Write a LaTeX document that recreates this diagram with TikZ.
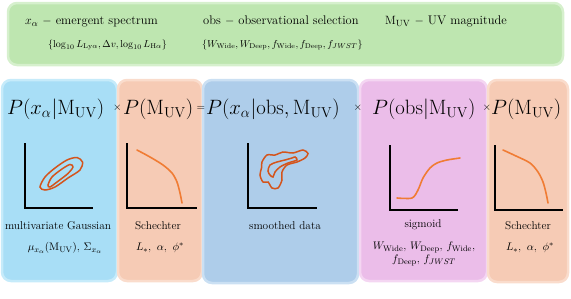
\documentclass[tikz,border=0pt]{standalone}
\usepackage{amsmath}
\usepackage{amssymb}
\usepackage{xcolor}
\usepackage{tikz}
\usetikzlibrary{positioning}

\definecolor{legfill}{HTML}{BEE6B0}
\definecolor{legrim}{HTML}{D6F0CD}
\definecolor{cyanfill}{HTML}{A8DEF6}
\definecolor{cyanrim}{HTML}{C6EBFA}
\definecolor{salfill}{HTML}{F6CBB5}
\definecolor{salrim}{HTML}{FADCCC}
\definecolor{bluefill}{HTML}{AECDEA}
\definecolor{bluerim}{HTML}{CBE0F3}
\definecolor{pinkfill}{HTML}{EBBDE9}
\definecolor{pinkrim}{HTML}{F4D6F2}
\definecolor{curveor}{HTML}{F07C34}
\definecolor{contred}{HTML}{D4541C}

\tikzset{
  panel/.style={rounded corners=9pt, line width=2.5pt},
  axes/.style={line width=2.6pt, black},
  curve/.style={line width=1.6pt, curveor, line cap=round},
  contour/.style={line width=1.5pt, contred},
  formula/.style={inner sep=0pt, anchor=base west, font=\fontsize{21.5}{26}\selectfont},
  wideformula/.style={formula, font=\fontsize{22.5}{27}\selectfont},
  op/.style={inner sep=0pt, font=\fontsize{10.5}{13}\selectfont},
  legend/.style={inner sep=0pt, anchor=base west, font=\fontsize{12.5}{15}\selectfont},
  legsub/.style={inner sep=0pt, anchor=base west, font=\fontsize{10.4}{12}\selectfont},
  plabel/.style={inner sep=0pt, font=\fontsize{11.3}{13}\selectfont},
  pparam/.style={inner sep=0pt, font=\fontsize{11.4}{13}\selectfont, align=center}
}

\begin{document}
\begin{tikzpicture}[x=1pt, y=-1pt]
  \useasboundingbox (0,0) rectangle (571,298);

  % legend bar
  \draw[panel, fill=legfill, draw=legrim] (8,3) rectangle (563,65);
  \node[legend] (xa) at (25,24.5) {$x_\alpha$ $-$ emergent spectrum};
  \node[legend] (ob) at (203,24.5) {obs $-$ observational selection};
  \node[legend] (mu) at (385,24.5) {$\mathrm{M_{UV}}$ $-$ UV magnitude};
  \node[legsub] (xap) at (48,47) {$\{\log_{10}L_{\mathrm{Ly}\alpha},\Delta v,\log_{10}L_{\mathrm{H}\alpha}\}$};
  \node[legsub] (obp) at (202,47) {$\{W_{\mathrm{Wide}},W_{\mathrm{Deep}},f_{\mathrm{Wide}},f_{\mathrm{Deep}},f_{JWST}\}$};

  % coloured panels
  \draw[panel, fill=cyanfill, draw=cyanrim] (2,80) rectangle (117,281);
  \draw[panel, fill=salfill, draw=salrim] (118,80) rectangle (202,281);
  \draw[panel, fill=bluefill, draw=bluerim] (203,80) rectangle (358,283);
  \draw[panel, fill=pinkfill, draw=pinkrim] (360,80) rectangle (487,281);
  \draw[panel, fill=salfill, draw=salrim] (488,80) rectangle (568,282);

  % the equation
  \node[formula] (f1) at (7,114) {$P(x_\alpha|\mathrm{M_{UV}})$};
  \node[op] (t1) at (117.5,108) {$\times$};
  \node[formula] (f2) at (123,114) {$P(\mathrm{M_{UV}})$};
  \node[op] (eq) at (201,108) {$=$};
  \node[wideformula] (f3) at (206,114) {$P(x_\alpha|\mathrm{obs},\mathrm{M_{UV}})$};
  \node[op] (t2) at (358,108) {$\times$};
  \node[formula] (f4) at (372,114) {$P(\mathrm{obs}|\mathrm{M_{UV}})$};
  \node[op] (t3) at (487,108) {$\times$};
  \node[wideformula] (f5) at (491,114) {$P(\mathrm{M_{UV}})$};

  % panel 1: gaussian contours
  \draw[axes] (25,143) -- (25,208) -- (93,208);
  \draw[contour] plot[smooth cycle] coordinates {(40,187) (45,177) (55,168) (67,160) (77,157.5) (82.5,162) (80,170) (68,178) (55,187) (45,190)};
  \draw[contour] plot[smooth cycle] coordinates {(48,185) (52,177) (62,169) (70,164.5) (73,167) (68,173.5) (57,182) (50,187)};
  \node[plabel] (l1) at (58,226) {multivariate Gaussian};
  \node[pparam] (p1) at (65,248) {$\mu_{x_\alpha}(\mathrm{M_{UV}})$, $\Sigma_{x_\alpha}$};

  % panel 2: schechter
  \draw[axes] (127,143) -- (127,208) -- (197,208);
  \draw[curve] plot[smooth] coordinates {(137,150) (150,157) (163,165) (172,173) (177,182) (180,193) (182,203)};
  \node[plabel] (l2) at (158,226) {Schechter};
  \node[pparam] (p2) at (160,248) {$L_{*}$,\, $\alpha$,\, $\phi^{*}$};

  % panel 3: smoothed data
  \draw[axes] (248,143) -- (248,208) -- (317,208);
  \draw[contour] plot[smooth cycle] coordinates {(262,162) (267,155) (275,155) (283,152) (293,153) (303,150) (308,153.5) (305,158) (297,162) (287,165) (282,172) (282,180) (278,188) (272,188) (268,182) (263,182) (260,175) (261.5,168)};
  \draw[contour] plot[smooth cycle] coordinates {(268,171) (270,165) (277,162) (285,160) (292,158) (295,157) (297,160) (288,163) (280,167) (275,172) (273,177) (270,175)};
  \node[plabel] (l3) at (285,226) {smoothed data};

  % panel 4: sigmoid
  \draw[axes] (390,145) -- (390,210) -- (458,210);
  \draw[curve] plot[smooth] coordinates {(397,198) (412,198) (418,190) (423,178) (430,168) (437,163) (447,160) (460,158)};
  \node[plabel] (l4) at (423,225) {sigmoid};
  \node[pparam] (p4) at (424,254) {$W_{\mathrm{Wide}}$, $W_{\mathrm{Deep}}$, $f_{\mathrm{Wide}}$,\\$f_{\mathrm{Deep}}$, $f_{JWST}$};

  % panel 5: schechter
  \draw[axes] (495,145) -- (495,210) -- (563,210);
  \draw[curve] plot[smooth] coordinates {(503,150) (516,156) (530,163) (538,172) (543,182) (546,193) (548,203)};
  \node[plabel] (l5) at (528,226) {Schechter};
  \node[pparam] (p5) at (530,248) {$L_{*}$,\, $\alpha$,\, $\phi^{*}$};
\end{tikzpicture}
\end{document}
